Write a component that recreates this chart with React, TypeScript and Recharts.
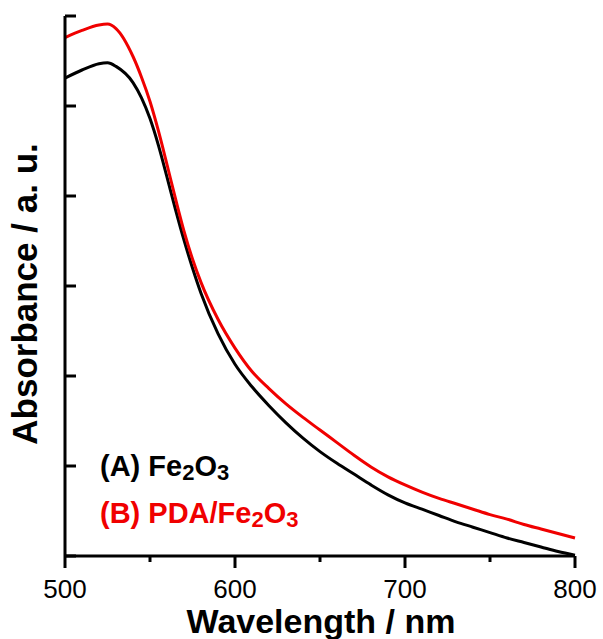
import React from 'react';
import { LineChart, Line, XAxis, YAxis, Customized } from 'recharts';

const wavelengths = [500, 510, 520, 525, 530, 540, 545, 550, 555, 560, 565, 570, 575, 580, 590, 600, 610, 620, 630, 640, 650, 660, 670, 680, 690, 700, 710, 720, 730, 740, 750, 760, 770, 780, 790, 800];
const fe2o3 = [5.31, 5.40, 5.47, 5.48, 5.44, 5.26, 5.09, 4.86, 4.56, 4.21, 3.85, 3.51, 3.20, 2.92, 2.47, 2.13, 1.88, 1.67, 1.48, 1.31, 1.16, 1.03, 0.91, 0.79, 0.68, 0.59, 0.52, 0.45, 0.38, 0.32, 0.26, 0.20, 0.15, 0.10, 0.05, 0.01];
const pdaFe2o3 = [5.76, 5.84, 5.90, 5.91, 5.86, 5.55, 5.32, 5.05, 4.72, 4.35, 3.97, 3.61, 3.30, 3.04, 2.63, 2.31, 2.05, 1.86, 1.69, 1.54, 1.40, 1.26, 1.12, 0.99, 0.88, 0.79, 0.71, 0.64, 0.58, 0.52, 0.46, 0.41, 0.35, 0.30, 0.25, 0.20];
const xTicks = [500, 550, 600, 650, 700, 750, 800];
const xMajorTicks = [500, 600, 700, 800];
const yTicks = [0, 1, 2, 3, 4, 5, 6];

const data = wavelengths.map((w, i) => ({ w, a: fe2o3[i], b: pdaFe2o3[i] }));

const FONT = '"Liberation Sans", Arial, Helvetica, sans-serif';
const RED = '#f00000';

const XTick = (props: any) => {
  const { x, y, payload } = props;
  const major = xMajorTicks.includes(payload.value);
  return (
    <g>
      <line x1={x} x2={x} y1={y} y2={y + (major ? 12 : 6)} stroke="#000" strokeWidth={3} />
      {major && (
        <text x={x} y={y + 42} textAnchor="middle" fontSize={26} fontFamily={FONT} fill="#000">
          {payload.value}
        </text>
      )}
    </g>
  );
};

const YTick = (props: any) => {
  const { x, y } = props;
  return <line x1={x} x2={x + 11} y1={y} y2={y} stroke="#000" strokeWidth={3} />;
};

const Titles = () => (
  <g fontFamily={FONT} fontWeight="bold">
    <text x={321} y={633} textAnchor="middle" fontSize={34} fill="#000">Wavelength / nm</text>
    <text x={37} y={294} textAnchor="middle" fontSize={35} fill="#000" transform="rotate(-90, 37, 294)">
      Absorbance / a. u.
    </text>
    <text x={100} y={476} fontSize={29} fill="#000">
      (A) Fe<tspan fontSize={22} dy={4}>2</tspan><tspan dy={-4}>O</tspan><tspan fontSize={22} dy={4}>3</tspan>
    </text>
    <text x={100} y={523} fontSize={29} fill={RED}>
      (B) PDA/Fe<tspan fontSize={22} dy={4}>2</tspan><tspan dy={-4}>O</tspan><tspan fontSize={22} dy={4}>3</tspan>
    </text>
  </g>
);

export default function App() {
  return (
    <div style={{ position: 'absolute', left: 0, top: 0, background: '#fff' }}>
      <LineChart width={603} height={639} data={data} margin={{ top: 16, right: 28, left: 55, bottom: 0 }}>
        <XAxis
          dataKey="w"
          type="number"
          domain={[500, 800]}
          ticks={xTicks}
          interval={0}
          tick={<XTick />}
          tickLine={false}
          tickSize={0}
          tickMargin={0}
          axisLine={{ stroke: '#000', strokeWidth: 3 }}
          height={83}
        />
        <YAxis
          type="number"
          domain={[0, 6]}
          ticks={yTicks}
          interval={0}
          tick={<YTick />}
          tickLine={false}
          tickSize={0}
          tickMargin={0}
          axisLine={{ stroke: '#000', strokeWidth: 3 }}
          width={10}
        />
        <Line dataKey="a" type="monotone" stroke="#000" strokeWidth={3} dot={false} isAnimationActive={false} />
        <Line dataKey="b" type="monotone" stroke={RED} strokeWidth={3} dot={false} isAnimationActive={false} />
        <Customized component={Titles} />
      </LineChart>
    </div>
  );
}
